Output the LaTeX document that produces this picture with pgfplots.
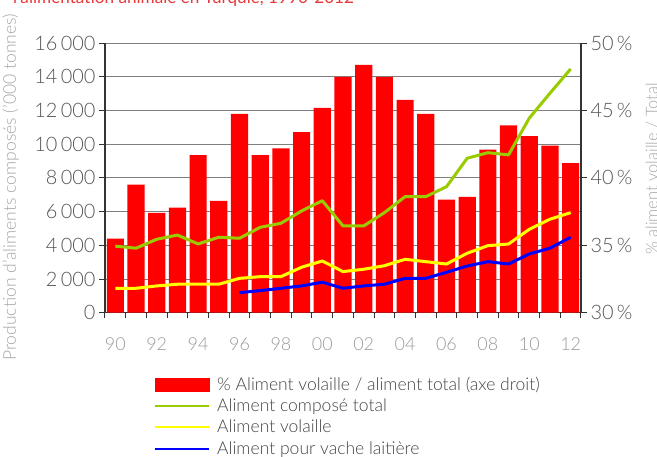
\documentclass[border=0pt]{standalone}
\usepackage{pgfplots}
\pgfplotsset{compat=1.18}
\usepackage{fontspec}
\setmainfont{Lato Light}
\newfontfamily\titlefont{Lato}
\definecolor{gridc}{HTML}{7F7F7F}
\definecolor{tickc}{HTML}{555555}
\definecolor{xtickc}{HTML}{9A9A9A}
\definecolor{labc}{HTML}{A6A6A6}
\definecolor{legc}{HTML}{444444}
\definecolor{greenl}{HTML}{99CC00}
\definecolor{yellowl}{HTML}{FFFF00}
\definecolor{bluel}{HTML}{0000FF}
\definecolor{titc}{HTML}{E8393A}
\pgfplotsset{
  base/.style={scale only axis, width=476bp, height=269.5bp,
    xmin=1989.5, xmax=2012.5,
    /pgf/number format/assume math mode=true,
    tick align=outside, major tick length=6bp, minor tick length=5bp,
    axis line style={line width=1.2bp, color=black!80},
    tick style={line width=1bp, color=black!80},
  }
}
\begin{document}
\begin{tikzpicture}
% grid + left axis
\begin{axis}[base, name=main,
  ymin=0, ymax=16000, ytick={0,2000,...,16000},
  scaled y ticks=false,
  /pgf/number format/1000 sep={\,},
  axis x line*=bottom, axis y line*=left,
  ymajorgrids, grid style={gridc, line width=1bp},
  xtick={1990,1992,...,2012},
  xticklabels={90,92,94,96,98,00,02,04,06,08,10,12},
  major x tick style={draw=none},
  minor xtick={1989.5,1990.5,...,2012.5},
  xticklabel style={font=\fontsize{18}{18}\selectfont, text=xtickc, yshift=-15bp},
  yticklabel style={font=\fontsize{20}{20}\selectfont, text=tickc},
  ylabel={Production d'aliments composés ('000 tonnes)},
  ylabel style={at={(axis description cs:-0.198,0.465)}, anchor=center, font=\fontsize{17.6}{17.6}\selectfont, text=labc},
]
\addplot[draw=none] coordinates {(1990,0)};
\end{axis}
% bars, right axis
\begin{axis}[base,
  ymin=30, ymax=50, ytick={30,35,...,50},
  yticklabels={30\,\%,35\,\%,40\,\%,45\,\%,50\,\%},
  axis y line*=right, axis x line=none,
  yticklabel style={font=\fontsize{20}{20}\selectfont, text=tickc},
  ybar, bar width=0.83,
  ylabel={\% aliment volaille / Total},
  ylabel style={at={(axis description cs:1.149,0.533)}, anchor=center, font=\fontsize{16.5}{16.5}\selectfont, text=labc},
]
\addplot[fill=red, draw=none] coordinates {
(1990,35.5) (1991,39.5) (1992,37.4) (1993,37.8) (1994,41.7) (1995,38.3)
(1996,44.75) (1997,41.7) (1998,42.2) (1999,43.4) (2000,45.2) (2001,47.5)
(2002,48.4) (2003,47.5) (2004,45.8) (2005,44.75) (2006,38.4) (2007,38.6)
(2008,42.1) (2009,43.9) (2010,43.1) (2011,42.4) (2012,41.1)};
\end{axis}
% lines
\begin{axis}[base, hide axis, ymin=0, ymax=16000,
  legend style={draw=none, fill=none, at={(axis description cs:0.102,-0.231)}, anchor=north west,
    font=\fontsize{17.6}{19}\selectfont, text=legc, row sep=3bp, inner sep=0pt,
    /tikz/every odd column/.append style={column sep=5.5bp}},
  legend cell align=left,
  legend image code/.code={\draw[#1, line width=2bp] (0bp,0bp) -- (54bp,0bp);},
]
\addlegendimage{legend image code/.code={\fill[red] (0bp,-6.5bp) rectangle (54bp,6.5bp);}}
\addlegendentry{\% Aliment volaille / aliment total (axe droit)}
\addplot[greenl, line width=3bp, line join=round] coordinates {
(1990,3950) (1991,3830) (1992,4360) (1993,4610) (1994,4080) (1995,4480)
(1996,4420) (1997,5070) (1998,5310) (1999,6040) (2000,6650) (2001,5150)
(2002,5150) (2003,5940) (2004,6890) (2005,6890) (2006,7480) (2007,9170)
(2008,9500) (2009,9370) (2010,11550) (2011,13030) (2012,14470)};
\addlegendentry{Aliment composé total}
\addplot[yellowl, line width=3bp, line join=round] coordinates {
(1990,1450) (1991,1450) (1992,1590) (1993,1690) (1994,1690) (1995,1690)
(1996,2040) (1997,2140) (1998,2140) (1999,2700) (2000,3070) (2001,2440)
(2002,2580) (2003,2790) (2004,3170) (2005,3030) (2006,2890) (2007,3530)
(2008,3980) (2009,4080) (2010,4950) (2011,5550) (2012,5940)};
\addlegendentry{Aliment volaille}
\addplot[bluel, line width=3bp, line join=round] coordinates {
(1996,1190) (1997,1310) (1998,1450) (1999,1590) (2000,1810) (2001,1450)
(2002,1590) (2003,1690) (2004,2040) (2005,2040) (2006,2400) (2007,2770)
(2008,3030) (2009,2890) (2010,3490) (2011,3830) (2012,4480)};
\addlegendentry{Aliment pour vache laitière}
\end{axis}
\node[anchor=base west, inner sep=0pt, text=titc, font=\fontsize{17.2}{17.2}\titlefont]
  at ([shift={(-92bp,309.2bp)}]main.south west) {l'alimentation animale en Turquie, 1990-2012};
\pgfresetboundingbox
\useasboundingbox ([shift={(-105bp,-144.3bp)}]main.south west) rectangle ([shift={(552bp,312.7bp)}]main.south west);
\end{tikzpicture}
\end{document}
